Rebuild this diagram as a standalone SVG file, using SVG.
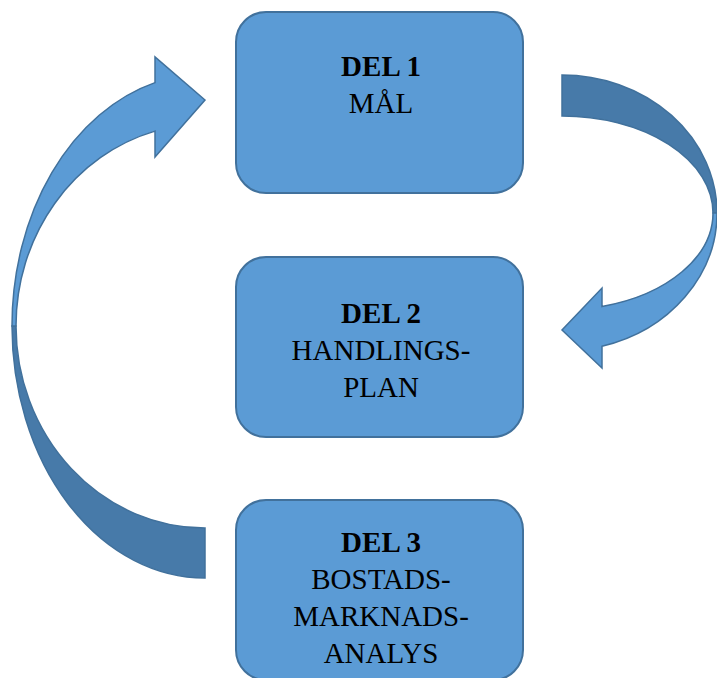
<svg xmlns="http://www.w3.org/2000/svg" width="717" height="678" viewBox="0 0 717 678">
<style>
.box{fill:#5B9BD5;stroke:#41719C;stroke-width:2}
.light{fill:#5B9BD5;stroke:#41719C;stroke-width:1.5;stroke-linejoin:miter}
.dark{fill:#477AA9;stroke:#41719C;stroke-width:1.5}
.t{font-family:"Liberation Serif","Times New Roman",serif;font-size:29px;fill:#000;text-anchor:middle}
.b{font-weight:bold}
</style>
<rect width="717" height="678" fill="#fff"/>
<g id="connectors">
<g id="arrow-right">
<path class="dark" d="M562 75 A155 138 0 0 1 717 213 L713 213 A151 97 0 0 0 562 116 Z"/>
<path class="light" d="M717 213 A155 138 0 0 1 602 346.3 L602 368 L562 330 L602 288 L602 306.5 A151 97 0 0 0 713 213 Z"/>
</g>
<g id="arrow-left">
<path class="dark" d="M205 578 A193 252 0 0 1 12 326 L16 326 A189 202 0 0 0 205 528 Z"/>
<path class="light" d="M12 326 A193 252 0 0 1 155 82.6 L155 57 L205 100 L155 157 L155 131.1 A189 202 0 0 0 16 326 Z"/>
</g>
</g>
<g id="del1">
<rect class="box" x="236" y="12" width="287" height="181" rx="30"/>
<text class="t b" x="381" y="76">DEL 1</text>
<text class="t" x="381" y="113">MÅL</text>
</g>
<g id="del2">
<rect class="box" x="236" y="257" width="287" height="180" rx="30"/>
<text class="t b" x="381" y="323">DEL 2</text>
<text class="t" x="381" y="360">HANDLINGS-</text>
<text class="t" x="381" y="397">PLAN</text>
</g>
<g id="del3">
<rect class="box" x="236" y="500" width="287" height="180" rx="30"/>
<text class="t b" x="381" y="552">DEL 3</text>
<text class="t" x="381" y="589">BOSTADS-</text>
<text class="t" x="381" y="626">MARKNADS-</text>
<text class="t" x="381" y="663">ANALYS</text>
</g>
</svg>
